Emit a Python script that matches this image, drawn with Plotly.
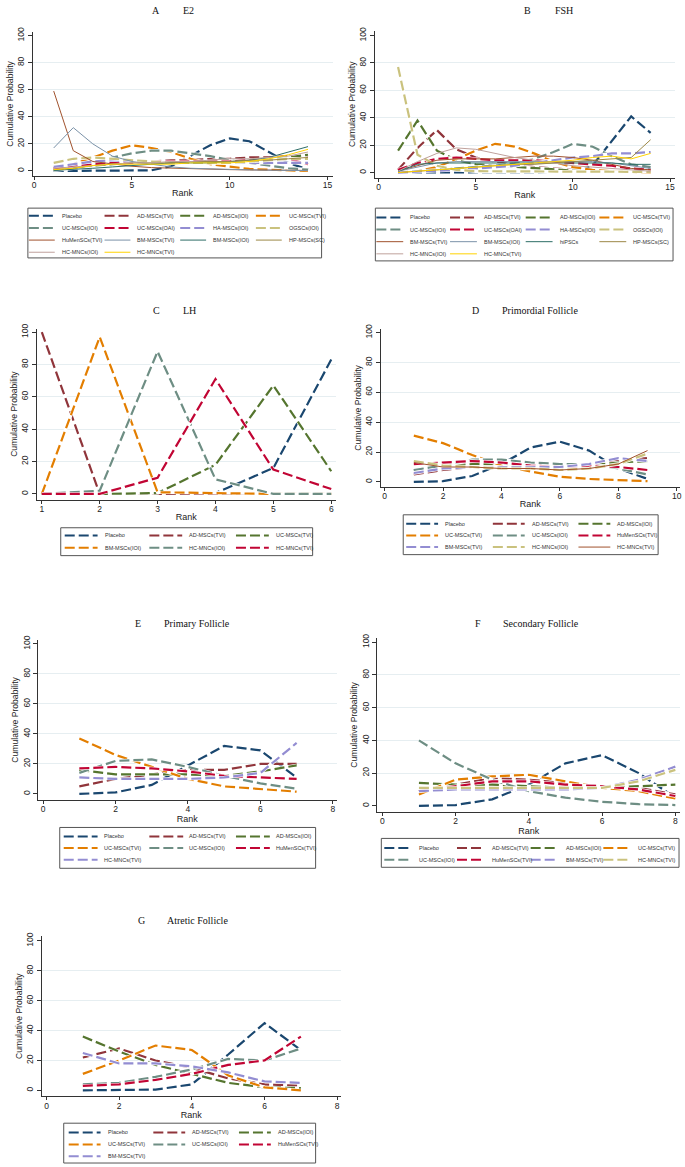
import plotly.graph_objects as go

# ---------------- DATA ----------------
ranks_e2 = list(range(1, 15))
labels_e2 = ["Placebo", "AD-MSCs(TVI)", "AD-MSCs(IOI)", "UC-MSCs(TVI)", "UC-MSCs(IOI)", "UC-MSCs(OAI)",
             "HA-MSCs(IOI)", "OGSCs(IOI)", "HuMenSCs(TVI)", "BM-MSCs(TVI)", "BM-MSCs(IOI)", "HP-MSCs(SC)",
             "HC-MNCs(IOI)", "HC-MNCs(TVI)"]
e2_placebo = [0, 0, 0, 0, 0, 0.5, 3.5, 11, 19, 24, 22, 14, 6, 1]
e2_ad_tvi = [2, 3, 5, 6, 7, 7, 8, 8, 9, 9, 10, 10, 11, 11]
e2_ad_ioi = [1, 3, 4, 5, 6, 6, 6, 7, 7, 7, 8, 9, 10, 12]
e2_uc_tvi = [2, 5, 10, 15, 19, 17, 14, 9, 5, 3, 1.5, 1, 0.5, 0]
e2_uc_ioi = [0.5, 2, 5, 10, 13, 15, 15, 13, 11, 8, 6, 4, 2, 1]
e2_uc_oai = [2, 4, 5, 6, 6, 7, 7, 7, 7, 7, 8, 8, 9, 5]
e2_ha_ioi = [3, 5, 7, 8, 7, 6, 6, 6, 6, 6, 6, 6, 6, 6]
e2_ogsc_ioi = [6, 9, 10, 9, 8, 7, 6, 6, 6, 6, 7, 8, 9, 9]
e2_humen_tvi = [59, 15, 7, 5, 3.5, 2.5, 2, 1.5, 1.2, 1, 0.8, 0.6, 0.5, 0.4]
e2_bm_tvi = [17, 32, 20, 11, 7, 5, 3, 2, 1.5, 1, 0.8, 0.6, 0.5, 0.3]
e2_bm_ioi = [0.5, 1, 2, 3, 4, 5, 6, 6, 6, 7, 8, 10, 14, 18]
e2_hp_sc = [1, 2, 4, 5, 6, 6, 6, 7, 7, 7, 8, 8, 9, 10]
e2_hc_ioi = [2, 3, 4, 5, 6, 6, 7, 7, 8, 9, 9, 10, 11, 14]
e2_hc_tvi = [1, 2, 4, 5, 5, 5, 5, 6, 6, 6, 7, 9, 12, 16]

ranks_fsh = list(range(1, 15))
labels_fsh = ["Placebo", "AD-MSCs(TVI)", "AD-MSCs(IOI)", "UC-MSCs(TVI)", "UC-MSCs(IOI)", "UC-MSCs(OAI)",
              "HA-MSCs(IOI)", "OGSCs(IOI)", "BM-MSCs(TVI)", "BM-MSCs(IOI)", "hiPSCs", "HP-MSCs(SC)",
              "HC-MNCs(IOI)", "HC-MNCs(TVI)"]
fsh_placebo = [0, 0, 0, 0, 0, 0, 0, 0, 0, 0.5, 5, 23, 41, 29]
fsh_ad_tvi = [2, 18, 31, 17, 11, 8, 6, 4, 3, 2, 1, 1, 0.5, 0.5]
fsh_ad_ioi = [16, 38, 16, 9, 6, 5, 4, 3, 2, 1.5, 1, 0.5, 0.5, 0.5]
fsh_uc_tvi = [0, 1, 4, 10, 16, 21, 19, 14, 8, 4, 2, 1, 0.5, 0]
fsh_uc_ioi = [0, 1, 2, 3, 4, 5, 7, 10, 15, 21, 19, 12, 6, 4]
fsh_uc_oai = [2, 7, 10, 11, 10, 9, 9, 9, 8, 7, 6, 5, 3, 2]
fsh_ha_ioi = [0, 0.5, 1, 2, 3, 4, 5, 7, 9, 11, 12, 14, 14, 15]
fsh_ogsc_ioi = [77, 13, 5, 2, 1, 1, 0.5, 0.5, 0.5, 0.5, 0.5, 0.5, 0.5, 0.5]
fsh_bm_tvi = [1, 5, 9, 10, 10, 10, 11, 12, 12, 11, 9, 6, 3, 2]
fsh_bm_ioi = [1, 4, 7, 8, 8, 8, 8, 8, 8, 8, 8, 7, 5, 3]
fsh_hipsc = [1, 6, 7, 7, 7, 7, 7, 7, 7, 7, 7, 7, 6, 6]
fsh_hp_sc = [0, 1, 2, 3, 4, 5, 6, 6, 7, 8, 9, 10, 11, 24]
fsh_hc_ioi = [1, 8, 14, 18, 17, 14, 11, 9, 7, 5, 4, 3, 2, 1]
fsh_hc_tvi = [0, 1, 2, 3, 4, 5, 6, 7, 8, 9, 11, 12, 10, 14]

ranks_lh = list(range(1, 7))
labels_lh = ["Placebo", "AD-MSCs(TVI)", "UC-MSCs(TVI)", "BM-MSCs(IOI)", "HC-MNCs(IOI)", "HC-MNCs(TVI)"]
lh_placebo = [0, 0, 0, 0.5, 16, 83]
lh_ad_tvi = [100, 0, 0, 0, 0, 0]
lh_uc_tvi = [0, 0, 0.5, 18, 67, 14]
lh_bm_ioi = [0, 97, 1, 0.5, 0, 0]
lh_hc_ioi = [0, 2, 88, 9, 0, 0]
lh_hc_tvi = [0, 0, 10, 71, 15, 3]

ranks_prim = list(range(1, 10))
labels_prim = ["Placebo", "AD-MSCs(TVI)", "AD-MSCs(IOI)", "UC-MSCs(TVI)", "UC-MSCs(IOI)", "HuMenSCs(TVI)",
               "BM-MSCs(TVI)", "HC-MNCs(IOI)", "HC-MNCs(TVI)"]
prim_placebo = [0, 0.5, 4, 12, 23, 27, 21, 9, 2]
prim_ad_tvi = [5, 8, 10, 11, 11, 11, 12, 14, 16]
prim_ad_ioi = [8, 10, 12, 12, 11, 10, 11, 13, 14]
prim_uc_tvi = [31, 26, 18, 11, 7, 3.5, 2, 1.5, 0.5]
prim_uc_ioi = [8, 11, 15, 15, 13, 12, 12, 9, 5]
prim_humen_tvi = [12, 13, 14, 13, 11, 10, 11, 10, 8]
prim_bm_tvi = [6, 9, 10, 10, 10, 10, 12, 16, 14]
prim_hc_ioi = [14, 11, 10, 9, 9, 8, 9, 12, 19]
prim_hc_tvi = [13, 10, 10, 9, 9, 8, 9, 12, 21]

ranks_pri = list(range(1, 8))
labels_pri = ["Placebo", "AD-MSCs(TVI)", "AD-MSCs(IOI)", "UC-MSCs(TVI)", "UC-MSCs(IOI)", "HuMenSCs(TVI)",
              "HC-MNCs(TVI)"]
pri_placebo = [0, 1, 6, 19, 32, 29, 11]
pri_ad_tvi = [5, 10, 13, 16, 16, 20, 20]
pri_ad_ioi = [16, 13, 13, 13, 12, 15, 19]
pri_uc_tvi = [37, 26, 18, 10, 5, 3, 1.5]
pri_uc_ioi = [14, 22, 23, 18, 12, 7, 3.5]
pri_humen_tvi = [17, 18, 17, 15, 12, 11, 10]
pri_hc_tvi = [11, 10, 10, 10, 11, 14, 34]

ranks_sec = list(range(1, 9))
labels_sec = ["Placebo", "AD-MSCs(TVI)", "AD-MSCs(IOI)", "UC-MSCs(TVI)", "UC-MSCs(IOI)", "HuMenSCs(TVI)",
              "BM-MSCs(TVI)", "HC-MNCs(TVI)"]
sec_placebo = [0, 0.5, 4, 13, 26, 31, 20, 5]
sec_ad_tvi = [9, 13, 17, 16, 14, 12, 11, 7]
sec_ad_ioi = [14, 13, 13, 12, 11, 11, 12, 13]
sec_uc_tvi = [7, 16, 18, 19, 15, 11, 9, 4.5]
sec_uc_ioi = [40, 26, 16, 9, 5, 2.5, 1, 0.5]
sec_humen_tvi = [9, 12, 15, 15, 13, 12, 10, 6]
sec_bm_tvi = [9, 10, 10, 10, 10, 11, 16, 24]
sec_hc_tvi = [11, 11, 11, 11, 11, 11, 15, 22]

ranks_atr = list(range(1, 8))
labels_atr = ["Placebo", "AD-MSCs(TVI)", "AD-MSCs(IOI)", "UC-MSCs(TVI)", "UC-MSCs(IOI)", "HuMenSCs(TVI)",
              "BM-MSCs(TVI)"]
atr_placebo = [0, 0, 0.5, 4, 24, 45, 27]
atr_ad_tvi = [22, 28, 20, 15, 8, 4, 3]
atr_ad_ioi = [36, 26, 17, 11, 5, 2, 1.5]
atr_uc_tvi = [11, 20, 30, 27, 10, 2, 0]
atr_uc_ioi = [4, 5, 9, 14, 21, 20, 28]
atr_humen_tvi = [3, 4, 7, 11, 17, 20, 36]
atr_bm_tvi = [25, 18, 18, 16, 12, 6, 5]

y_ticks = [0, 20, 40, 60, 80, 100]

# ---------------- STYLE / LAYOUT ----------------
W, H = 685, 1167
PALETTE = ['#1a476f', '#90353b', '#55752f', '#e37e00', '#6e8e84', '#c10534', '#938dd2',
           '#cac27e', '#a0522d', '#7b92a8', '#2d6d66', '#9c8847', '#bfa19c', '#ffd200']
DASH = "10px,4px"
AXC = '#333333'
SANS = 'Liberation Sans, Arial, sans-serif'
SERIF = 'Liberation Serif, Times New Roman, serif'

panels = [
    dict(letter='A', name='E2', ranks=ranks_e2, labels=labels_e2,
         series=[e2_placebo, e2_ad_tvi, e2_ad_ioi, e2_uc_tvi, e2_uc_ioi, e2_uc_oai, e2_ha_ioi, e2_ogsc_ioi,
                 e2_humen_tvi, e2_bm_tvi, e2_bm_ioi, e2_hp_sc, e2_hc_ioi, e2_hc_tvi],
         xt=[0, 5, 10, 15], xv=(0, 15), xp=(33.3, 328), xl=(31.7, 333),
         yp=(166.7, 30.7), yl=(26.7, 172), tl=(156, 188, 6),
         leg=dict(box=(27, 204, 322, 254), cols=[28, 104, 180, 256], ll=26, to=31, r0=211.7, dy=12.2)),
    dict(letter='B', name='FSH', ranks=ranks_fsh, labels=labels_fsh,
         series=[fsh_placebo, fsh_ad_tvi, fsh_ad_ioi, fsh_uc_tvi, fsh_uc_ioi, fsh_uc_oai, fsh_ha_ioi,
                 fsh_ogsc_ioi, fsh_bm_tvi, fsh_bm_ioi, fsh_hipsc, fsh_hp_sc, fsh_hc_ioi, fsh_hc_tvi],
         xt=[0, 5, 10, 15], xv=(0, 15), xp=(379.3, 672), xl=(375.3, 677),
         yp=(168.3, 30.7), yl=(26, 173.3), tl=(528.7, 565.3, 6),
         leg=dict(box=(376, 204, 675, 257), cols=[377, 451, 527, 601], ll=27, to=32, r0=213.3, dy=12.2)),
    dict(letter='C', name='LH', ranks=ranks_lh, labels=labels_lh,
         series=[lh_placebo, lh_ad_tvi, lh_uc_tvi, lh_bm_ioi, lh_hc_ioi, lh_hc_tvi],
         xt=[1, 2, 3, 4, 5, 6], xv=(1, 6), xp=(41, 331.7), xl=(36, 336),
         yp=(491, 328.5), yl=(325, 496.7), tl=(156, 189, 306.7),
         leg=dict(box=(60, 525, 313, 553), cols=[64, 149, 236], ll=33, to=38, r0=532.7, dy=12.3)),
    dict(letter='D', name='Primordial Follicle', ranks=ranks_prim, labels=labels_prim,
         series=[prim_placebo, prim_ad_tvi, prim_ad_ioi, prim_uc_tvi, prim_uc_ioi, prim_humen_tvi,
                 prim_bm_tvi, prim_hc_ioi, prim_hc_tvi],
         xt=[0, 2, 4, 6, 8, 10], xv=(0, 10), xp=(385.3, 678.7), xl=(381.3, 682),
         yp=(479, 329), yl=(325, 484.3), tl=(477, 541, 306.7),
         leg=dict(box=(404, 512, 660, 552), cols=[407, 494, 580], ll=32, to=37, r0=521, dy=11.7)),
    dict(letter='E', name='Primary Follicle', ranks=ranks_pri, labels=labels_pri,
         series=[pri_placebo, pri_ad_tvi, pri_ad_ioi, pri_uc_tvi, pri_uc_ioi, pri_humen_tvi, pri_hc_tvi],
         xt=[0, 2, 4, 6, 8], xv=(0, 8), xp=(42.3, 333.3), xl=(37.3, 337),
         yp=(792.3, 641.7), yl=(637.3, 798.7), tl=(137.7, 196.7, 620.7),
         leg=dict(box=(59, 826, 316, 867), cols=[63, 149, 236], ll=34, to=38, r0=835, dy=11.7)),
    dict(letter='F', name='Secondary Follicle', ranks=ranks_sec, labels=labels_sec,
         series=[sec_placebo, sec_ad_tvi, sec_ad_ioi, sec_uc_tvi, sec_uc_ioi, sec_humen_tvi, sec_bm_tvi,
                 sec_hc_tvi],
         xt=[0, 2, 4, 6, 8], xv=(0, 8), xp=(383, 677.3), xl=(378, 682),
         yp=(804.3, 640), yl=(636, 810), tl=(478.7, 542, 620.7),
         leg=dict(box=(382, 837, 681, 866), cols=[385, 458, 532, 605], ll=28, to=33, r0=846.7, dy=11.7)),
    dict(letter='G', name='Atretic Follicle', ranks=ranks_atr, labels=labels_atr,
         series=[atr_placebo, atr_ad_tvi, atr_ad_ioi, atr_uc_tvi, atr_uc_ioi, atr_humen_tvi, atr_bm_tvi],
         xt=[0, 2, 4, 6, 8], xv=(0, 8), xp=(45.7, 337.7), xl=(40.7, 341.7),
         yp=(1090, 940), yl=(935, 1096), tl=(141, 197.7, 919),
         leg=dict(box=(63, 1123, 316, 1163), cols=[68, 153, 239], ll=32, to=37, r0=1132.3, dy=12)),
]


def fx(px):
    return px / W


def fy(py):
    return 1 - py / H


fig = go.Figure()
layout = dict(width=W, height=H, autosize=False, margin=dict(l=0, r=0, t=0, b=0),
              paper_bgcolor='white', plot_bgcolor='white', showlegend=False)
shapes, annotations = [], []

for i, p in enumerate(panels):
    n = '' if i == 0 else str(i + 1)
    # x axis range from pixel calibration
    (v0, v1), (p0, p1), (pl, pr) = p['xv'], p['xp'], p['xl']
    k = (v1 - v0) / (p1 - p0)
    xr = [v0 + (pl - p0) * k, v0 + (pr - p0) * k]
    (py0, py100), (pt, pb) = p['yp'], p['yl']
    ky = 100 / (py0 - py100)
    yr = [(py0 - pb) * ky, (py0 - pt) * ky]

    layout['xaxis' + n] = dict(
        domain=[fx(pl), fx(pr)], range=xr, anchor='y' + n, showline=True, linecolor=AXC, linewidth=1,
        ticks='outside', ticklen=3, tickwidth=1, tickcolor=AXC, tickmode='array', tickvals=p['xt'],
        ticklabelstandoff=-2,
        tickfont=dict(family=SANS, size=8.5, color='#222'), showgrid=False, zeroline=False,
        title=dict(text='Rank', font=dict(family=SANS, size=9, color='#222'), standoff=0),
        fixedrange=True)
    layout['yaxis' + n] = dict(
        domain=[fy(pb), fy(pt)], range=yr, anchor='x' + n, showline=True, linecolor=AXC, linewidth=1,
        ticks='outside', ticklen=4, tickwidth=1, tickcolor=AXC, tickmode='array', tickvals=y_ticks,
        tickangle=-90, tickfont=dict(family=SANS, size=8.5, color='#222'), showgrid=False, zeroline=False,
        minor=dict(tickmode='array', tickvals=y_ticks[1:-1], showgrid=True, gridcolor='#e6eef1',
                   gridwidth=1, ticks=''),
        title=dict(text='Cumulative Probability', font=dict(family=SANS, size=8.6, color='#222'),
                   standoff=1),
        fixedrange=True)

    for j, (lab, vals) in enumerate(zip(p['labels'], p['series'])):
        dashed = j < 8
        if dashed:
            # white halo under dashed lines (as in the Stata rendering)
            fig.add_trace(go.Scatter(
                x=p['ranks'], y=vals, mode='lines', name=lab, showlegend=False, hoverinfo='skip',
                line=dict(color='white', width=3.4), xaxis='x' + n, yaxis='y' + n))
        fig.add_trace(go.Scatter(
            x=p['ranks'], y=vals, mode='lines', name=lab, showlegend=False,
            line=dict(color=PALETTE[j], width=2.2 if dashed else 1, dash=DASH if dashed else 'solid'),
            xaxis='x' + n, yaxis='y' + n, hoverinfo='name+x+y'))

    # panel title
    tx1, tx2, ty = p['tl']
    annotations.append(dict(text=p['letter'], x=fx(tx1), y=fy(ty), xref='paper', yref='paper',
                            showarrow=False, xanchor='center', yanchor='middle',
                            font=dict(family=SERIF, size=10, color='#111')))
    annotations.append(dict(text=p['name'], x=fx(tx2), y=fy(ty), xref='paper', yref='paper',
                            showarrow=False, xanchor='center', yanchor='middle',
                            font=dict(family=SERIF, size=10, color='#111')))

    # legend box (drawn manually to match Stata layout)
    lg = p['leg']
    bx0, by0, bx1, by1 = lg['box']
    shapes.append(dict(type='rect', xref='paper', yref='paper', x0=fx(bx0), x1=fx(bx1),
                       y0=fy(by1), y1=fy(by0), line=dict(color='#555', width=1), fillcolor='rgba(0,0,0,0)'))
    ncol = len(lg['cols'])
    for j, lab in enumerate(p['labels']):
        dashed = j < 8
        cx = lg['cols'][j % ncol]
        ry = lg['r0'] + (j // ncol) * lg['dy']
        shapes.append(dict(type='line', xref='paper', yref='paper', x0=fx(cx), x1=fx(cx + lg['ll']),
                           y0=fy(ry), y1=fy(ry),
                           line=dict(color=PALETTE[j], width=2 if dashed else 1,
                                     dash=DASH if dashed else 'solid')))
        annotations.append(dict(text=lab, x=fx(cx + lg['to']), y=fy(ry), xref='paper', yref='paper',
                                showarrow=False, xanchor='left', yanchor='middle',
                                font=dict(family=SANS, size=5.5, color='#333')))

layout['shapes'] = shapes
layout['annotations'] = annotations
fig.update_layout(**layout)
fig.write_html("out.html", config={'displayModeBar': False},
               post_script="document.body.style.margin='0px';document.body.style.overflow='hidden';")
